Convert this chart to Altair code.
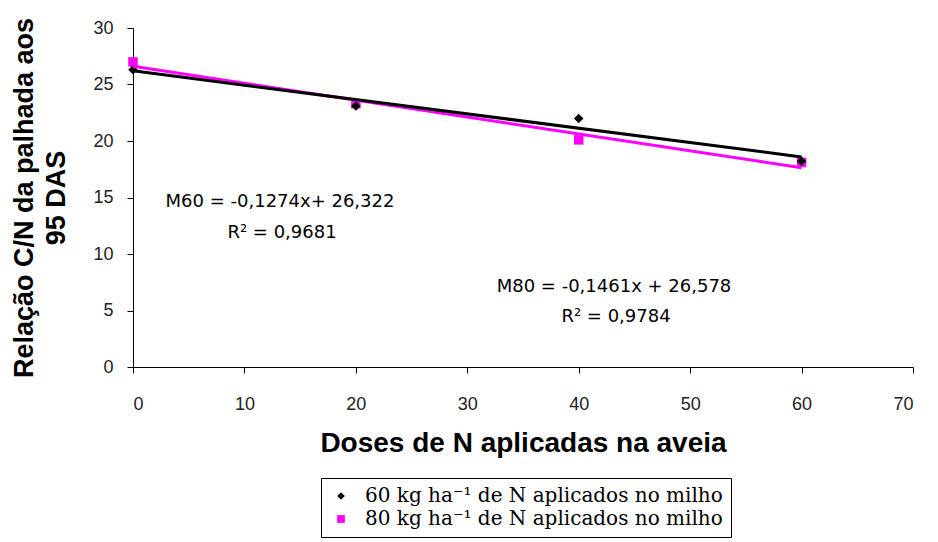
import altair as alt
import pandas as pd

doses = [0, 20, 40, 60]
m60 = [26.3, 23.1, 22.0, 18.2]
m80 = [27.0, 23.3, 20.1, 18.1]
series_names = ["60 kg ha\u207b\u00b9 de N aplicados no milho",
                "80 kg ha\u207b\u00b9 de N aplicados no milho"]
series_colors = ["#000000", "#ff00ff"]
series_shapes = ["diamond", "square"]

eq60 = ["M60 = -0,1274x+ 26,322", "R\u00b2 = 0,9681"]
eq80 = ["M80 = -0,1461x + 26,578", "R\u00b2 = 0,9784"]

rows = []
for x, a, b in zip(doses, m60, m80):
    rows.append({"dose": x, "cn": a, "serie": series_names[0]})
    rows.append({"dose": x, "cn": b, "serie": series_names[1]})
df = pd.DataFrame(rows)

base = alt.Chart(df)

xscale = alt.Scale(domain=[0, 70], nice=False)
yscale = alt.Scale(domain=[0, 30], nice=False)

xax = alt.Axis(values=list(range(0, 71, 10)), title="Doses de N aplicadas na aveia",
               grid=False, labelFontSize=18, labelColor="#222", labelFont="Liberation Sans",
               titleFont="Liberation Sans", titleFontSize=28, titleFontWeight="bold",
               titlePadding=16, tickSize=6, labelPadding=22, domainColor="black",
               tickColor="black", titleColor="black")
yax = alt.Axis(values=list(range(0, 31, 5)), title=["Relação C/N da palhada aos", "95 DAS"],
               grid=False, labelFontSize=18, labelColor="#222", labelFont="Liberation Sans",
               titleFont="Liberation Sans", titleFontSize=27, titleFontWeight="bold",
               titleLineHeight=32, titlePadding=22, tickSize=6, labelPadding=14,
               domainColor="black", tickColor="black", titleColor="black")

def trend(name, color):
    return base.transform_filter(alt.datum.serie == name).transform_regression(
        "dose", "cn", method="linear"
    ).mark_line(color=color, strokeWidth=3).encode(
        x=alt.X("dose:Q", scale=xscale, axis=xax),
        y=alt.Y("cn:Q", scale=yscale, axis=yax),
    )

points = base.mark_point(filled=True, opacity=1, size=90).encode(
    x=alt.X("dose:Q", scale=xscale, axis=xax),
    y=alt.Y("cn:Q", scale=yscale, axis=yax),
    color=alt.Color("serie:N", scale=alt.Scale(domain=series_names, range=series_colors),
                    legend=alt.Legend(title=None, orient="none", legendX=188, legendY=450,
                                      labelFont="DejaVu Serif", labelFontSize=20,
                                      labelColor="black", strokeColor="black",
                                      padding=8, rowPadding=3, symbolSize=60,
                                      symbolOffset=2, labelOffset=14,
                                      labelLimit=500, fillColor="white")),
    shape=alt.Shape("serie:N", scale=alt.Scale(domain=series_names, range=series_shapes)),
    order=alt.Order("serie:N", sort="descending"),
)

def label(txt, px, py):
    return alt.Chart(pd.DataFrame({"t": [txt]})).mark_text(
        font="DejaVu Sans", fontSize=18, color="black").encode(
        text="t:N", x=alt.value(px), y=alt.value(py))

chart = alt.layer(
    points, trend(series_names[1], series_colors[1]), trend(series_names[0], series_colors[0]),
    label(eq60[0], 147, 174), label(eq60[1], 149, 205),
    label(eq80[0], 481, 259), label(eq80[1], 483, 289),
).properties(
    width=780, height=339,
    autosize=alt.AutoSizeParams(type="none"),
    padding={"left": 133, "top": 28, "right": 25, "bottom": 175},
    background="white",
).configure_view(stroke=None)

chart.save("out.html", embed_options={"renderer": "svg", "actions": False})
